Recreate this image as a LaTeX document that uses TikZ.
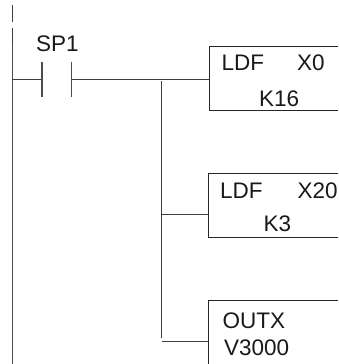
\documentclass[tikz,border=0pt]{standalone}
\usepackage{fontspec}
\setmainfont{Liberation Sans}
\tikzset{
  wire/.style={line width=0.9pt,black!75},
  rail/.style={line width=1.7pt,black!70},
  contact/.style={line width=1.3pt,black!70},
  boxline/.style={line width=0.9pt,black!85},
  lbl/.style={inner sep=0pt,anchor=base west,font=\fontsize{22.5}{24}\selectfont,text=black!90},
}
\begin{document}
\begin{tikzpicture}[x=1pt,y=-1pt]
\useasboundingbox (0,0) rectangle (338,364);
\coordinate (rt1) at (12.5,5); \coordinate (rb1) at (12.5,22);
\coordinate (rt2) at (12.5,28); \coordinate (rb2) at (12.5,45);
\coordinate (rt3) at (12.5,45); \coordinate (rb3) at (12.5,364);
\draw[wire,line width=1.2pt] (rt1) -- (rb1);
\draw[wire,line width=1.2pt] (rt2) -- (rb2);
\draw[rail] (rt3) -- (rb3);
\node[lbl] (sp) at (36,51.7) {SP1};
\coordinate (l0) at (13,79); \coordinate (c1) at (42,79);
\coordinate (c1t) at (42,62); \coordinate (c1b) at (42,97);
\coordinate (c2t) at (71.3,62); \coordinate (c2b) at (71.3,97);
\coordinate (c2) at (71.3,79);
\coordinate (b1w) at (209.3,79);
\coordinate (j) at (161.7,81);
\coordinate (j2) at (161.7,214.3);
\coordinate (j3) at (161.7,338);
\coordinate (w3) at (161.7,341);
\coordinate (b2w) at (208.3,214.3);
\coordinate (b3w) at (208.3,341);
\draw[wire] (l0) -- (c1);
\draw[contact] (c1t) -- (c1b);
\draw[contact] (c2t) -- (c2b);
\draw[wire] (c2) -- (b1w);
\draw[wire] (j) -- (j3);
\draw[wire] (j2) -- (b2w);
\draw[wire] (w3) -- (b3w);
% boxes
\draw[boxline] (338,46) -- (209.3,46) -- (209.3,110.7) -- (338,110.7);
\draw[boxline] (338,173.3) -- (208.3,173.3) -- (208.3,237.7) -- (338,237.7);
\draw[boxline] (338,300.7) -- (208.3,300.7) -- (208.3,364);
\node[lbl] (t1) at (221.5,70) {LDF};
\node[lbl] (t2) at (297,70) {X0};
\node[lbl] (t4) at (259,106.7) {K16};
\node[lbl] (t5) at (220,198) {LDF};
\node[lbl] (t6) at (297.5,198) {X20};
\node[lbl] (t7) at (263.5,231.7) {K3};
\node[lbl] (t8) at (222.5,328.3) {OUTX};
\node[lbl] (t9) at (224,355) {V3000};
\end{tikzpicture}
\end{document}
